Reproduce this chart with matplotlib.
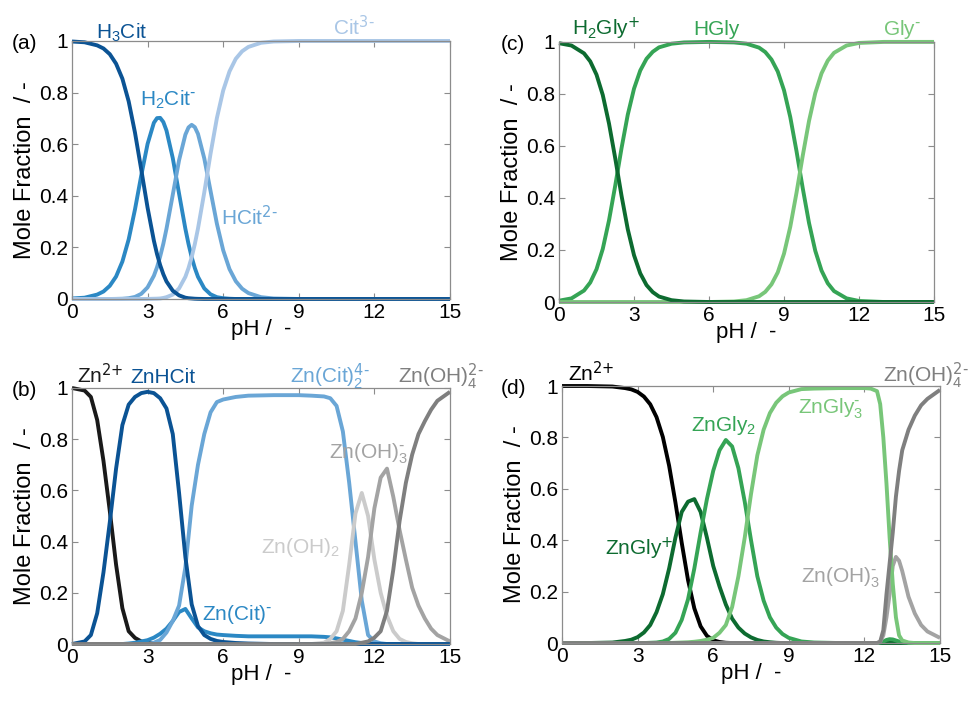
import matplotlib
matplotlib.use("Agg")
import matplotlib.pyplot as plt

plt.rcParams['font.family'] = ['Liberation Sans', 'DejaVu Sans']
plt.rcParams['mathtext.default'] = 'regular'

# ---------------- (a) citric acid ----------------
ph_a = [0, 0.5, 1, 1.25, 1.5, 1.75, 2, 2.25, 2.5, 2.75, 3, 3.25, 3.375, 3.5, 3.625,
        3.75, 4, 4.25, 4.5, 4.625, 4.75, 4.875, 5, 5.25, 5.5, 5.75, 6, 6.25, 6.5, 6.75,
        7, 7.5, 8, 9, 10, 12, 15]
h3cit = [0.998, 0.995, 0.983, 0.971, 0.949, 0.912, 0.854, 0.766, 0.645, 0.501, 0.354,
         0.226, 0.174, 0.131, 0.096, 0.068, 0.032, 0.014, 0.005, 0.003, 0.002, 0.001,
         0.0005] + [0] * 14
h2cit = [0.002, 0.005, 0.017, 0.029, 0.051, 0.087, 0.145, 0.231, 0.347, 0.479, 0.601,
         0.683, 0.701, 0.702, 0.686, 0.653, 0.546, 0.408, 0.272, 0.213, 0.162, 0.120,
         0.086, 0.041, 0.018, 0.007, 0.003, 0.001, 0, 0, 0, 0, 0, 0, 0, 0, 0]
hcit = [0, 0, 0, 0, 0, 0.0004, 0.001, 0.003, 0.008, 0.020, 0.045, 0.090, 0.123, 0.165,
        0.214, 0.272, 0.404, 0.538, 0.637, 0.665, 0.675, 0.666, 0.640, 0.545, 0.418,
        0.292, 0.189, 0.116, 0.069, 0.040, 0.023, 0.007, 0.002, 0, 0, 0, 0]
cit = [0, 0, 0, 0, 0, 0, 0, 0, 0, 0.0001, 0.0002, 0.001, 0.0013, 0.002, 0.004, 0.007,
       0.017, 0.041, 0.086, 0.120, 0.162, 0.213, 0.273, 0.413, 0.564, 0.701, 0.808,
       0.882, 0.931, 0.960, 0.977, 0.993, 0.998, 1, 1, 1, 1]

# ---------------- (c) glycine ----------------
ph_c = [0, 0.5, 1, 1.25, 1.5, 1.75, 2, 2.25, 2.5, 2.75, 3, 3.25, 3.5, 3.75, 4, 4.5, 5,
        6, 7, 7.5, 8, 8.25, 8.5, 8.75, 9, 9.25, 9.5, 9.75, 10, 10.25, 10.5, 10.75, 11,
        11.5, 12, 13, 14, 15]
h2gly = [0.995, 0.986, 0.956, 0.925, 0.874, 0.796, 0.686, 0.552, 0.409, 0.280, 0.180,
         0.110, 0.065, 0.038, 0.021, 0.007, 0.002, 0, 0, 0, 0, 0, 0, 0, 0, 0, 0, 0, 0,
         0, 0, 0, 0, 0, 0, 0, 0, 0]
hgly = [0.005, 0.014, 0.044, 0.075, 0.126, 0.204, 0.314, 0.448, 0.591, 0.720, 0.820,
        0.890, 0.935, 0.962, 0.979, 0.993, 0.998, 1.0, 0.998, 0.993, 0.978, 0.961,
        0.932, 0.886, 0.814, 0.711, 0.580, 0.437, 0.304, 0.197, 0.121, 0.072, 0.042,
        0.014, 0.004, 0, 0, 0]
gly = [0, 0, 0, 0, 0, 0, 0, 0, 0, 0, 0, 0, 0, 0, 0, 0, 0, 0, 0.002, 0.007, 0.022,
       0.039, 0.068, 0.114, 0.186, 0.289, 0.420, 0.563, 0.696, 0.803, 0.879, 0.928,
       0.958, 0.986, 0.996, 1.0, 1.0, 1.0]

# ---------------- (b) Zn - citrate ----------------
ph_b = [0, 0.5, 0.75, 1, 1.25, 1.5, 1.75, 2, 2.25, 2.5, 2.75, 3, 3.25, 3.5, 3.75, 4,
        4.25, 4.5, 4.75, 5, 5.25, 5.5, 5.75, 6, 6.5, 7, 8, 9, 9.5, 10, 10.25, 10.5,
        10.75, 11, 11.25, 11.5, 11.75, 12, 12.25, 12.5, 12.75, 13, 13.25, 13.5, 13.75,
        14, 14.25, 14.5, 15]
zn_b = [1.0, 0.99, 0.965, 0.875, 0.715, 0.52, 0.31, 0.14, 0.05, 0.024, 0.01, 0.005,
        0.002] + [0] * 36
znhcit = [0, 0.01, 0.035, 0.12, 0.28, 0.475, 0.685, 0.855, 0.935, 0.965, 0.98, 0.985,
          0.98, 0.96, 0.92, 0.82, 0.59, 0.34, 0.155, 0.07, 0.035, 0.02, 0.012, 0.008,
          0.004, 0.002] + [0] * 23
zncit = [0, 0, 0, 0, 0, 0, 0, 0, 0.002, 0.005, 0.01, 0.015, 0.025, 0.04, 0.06, 0.09,
         0.125, 0.137, 0.10, 0.065, 0.05, 0.042, 0.037, 0.035, 0.032, 0.03, 0.03, 0.03,
         0.03, 0.028, 0.026, 0.022, 0.017, 0.012, 0.007, 0.004, 0.002] + [0] * 12
zncit2 = [0] * 12 + [0.005, 0.016, 0.045, 0.09, 0.15, 0.30, 0.54, 0.70, 0.82, 0.905,
                     0.945, 0.955, 0.965, 0.97, 0.972, 0.972, 0.97, 0.967, 0.96, 0.93,
                     0.83, 0.63, 0.40, 0.17, 0.035, 0.01, 0.003] + [0] * 10
znoh2_b = [0] * 29 + [0.005, 0.02, 0.05, 0.13, 0.31, 0.51, 0.59, 0.50, 0.33, 0.20,
                      0.11, 0.05, 0.02, 0.008, 0.003, 0, 0, 0, 0, 0]
znoh3_b = [0] * 30 + [0.003, 0.008, 0.02, 0.05, 0.10, 0.20, 0.34, 0.53, 0.65, 0.685,
                      0.575, 0.445, 0.33, 0.22, 0.15, 0.10, 0.06, 0.035, 0.01]
znoh4_b = [0] * 35 + [0.005, 0.01, 0.025, 0.05, 0.13, 0.29, 0.48, 0.63, 0.74, 0.82,
                      0.87, 0.915, 0.95, 0.985]

# ---------------- (d) Zn - glycine ----------------
ph_d = [0, 1, 2, 2.5, 2.75, 3, 3.25, 3.5, 3.75, 4, 4.25, 4.5, 4.75, 5, 5.25, 5.5, 5.75,
        6, 6.25, 6.5, 6.75, 7, 7.25, 7.5, 7.75, 8, 8.25, 8.5, 8.75, 9, 9.5, 10, 11, 12,
        12.25, 12.5, 12.625, 12.75, 12.875, 13, 13.125, 13.25, 13.375, 13.5, 13.75, 14,
        14.25, 14.5, 15]
zn_d = [1.0, 1.0, 0.998, 0.992, 0.987, 0.977, 0.959, 0.929, 0.879, 0.802, 0.690, 0.547,
        0.390, 0.245, 0.135, 0.065, 0.028, 0.011, 0.004, 0.001] + [0] * 29
zngly = [0, 0, 0.002, 0.008, 0.013, 0.023, 0.041, 0.07, 0.12, 0.19, 0.29, 0.41, 0.51,
         0.55, 0.56, 0.51, 0.41, 0.30, 0.22, 0.15, 0.095, 0.06, 0.037, 0.022, 0.012,
         0.006, 0.003, 0.001] + [0] * 21
zngly2 = [0, 0, 0, 0, 0, 0, 0, 0.001, 0.002, 0.006, 0.016, 0.04, 0.09, 0.17, 0.29,
          0.43, 0.56, 0.67, 0.75, 0.79, 0.765, 0.68, 0.55, 0.40, 0.26, 0.165, 0.10,
          0.06, 0.035, 0.02, 0.006, 0.002, 0, 0, 0, 0, 0.002, 0.006, 0.012, 0.015,
          0.014, 0.01, 0.006, 0.003, 0, 0, 0, 0, 0]
zngly3 = [0] * 11 + [0.001, 0.002, 0.003, 0.005, 0.008, 0.013, 0.02, 0.04, 0.07, 0.14,
                     0.26, 0.41, 0.58, 0.73, 0.83, 0.895, 0.935, 0.96, 0.975, 0.988,
                     0.99, 0.992, 0.992, 0.99, 0.98, 0.93, 0.80, 0.62, 0.41, 0.23,
                     0.10, 0.03, 0.01, 0.002, 0, 0, 0, 0]
znoh3_d = [0] * 36 + [0.005, 0.03, 0.10, 0.19, 0.30, 0.335, 0.32, 0.28, 0.18, 0.115,
                      0.07, 0.045, 0.02]
znoh4_d = [0] * 36 + [0.005, 0.05, 0.19, 0.31, 0.43, 0.57, 0.67, 0.75, 0.83, 0.885,
                      0.925, 0.95, 0.985]

# colours
BLUE1, BLUE2, BLUE3, BLUE4 = '#0b5394', '#2b88c4', '#6aa6d6', '#a9c6e6'
GREEN1, GREEN2, GREEN3 = '#0d6b30', '#35a455', '#78c679'
BLACK, GRAY_L, GRAY_M, GRAY_D = '#1a1a1a', '#cbcbcb', '#a3a3a3', '#7f7f7f'
LW = 2.8

fig = plt.figure(figsize=(9.7, 7.03), dpi=100)
ax_a = fig.add_axes([0.0742, 0.5747, 0.3897, 0.367])
ax_c = fig.add_axes([0.5763, 0.5704, 0.3866, 0.370])
ax_b = fig.add_axes([0.0742, 0.0839, 0.3897, 0.3642])
ax_d = fig.add_axes([0.5794, 0.0853, 0.3897, 0.3656])


def style(ax, letter, lx):
    ax.set_xlim(0, 15)
    ax.set_ylim(0, 1)
    ax.set_xticks([0, 3, 6, 9, 12, 15])
    ax.set_yticks([0, 0.2, 0.4, 0.6, 0.8, 1])
    ax.set_yticklabels(['0', '0.2', '0.4', '0.6', '0.8', '1'])
    ax.tick_params(direction='in', top=True, right=True, labelsize=15,
                   length=4, width=0.8, color='#8c8c8c', pad=3)
    for s in ax.spines.values():
        s.set_color('#8c8c8c')
        s.set_linewidth(0.9)
    ax.set_xlabel('pH /  -', fontsize=16, labelpad=-2)
    ax.set_ylabel('Mole Fraction  / -', fontsize=17, labelpad=2)
    ax.text(lx, 0.99, letter, transform=ax.transAxes, fontsize=15,
            ha='left', va='center')


def curve(ax, x, y, c):
    ax.plot(x, y, color=c, lw=LW, clip_on=False, solid_joinstyle='round',
            solid_capstyle='butt')


def lbl(ax, x, y, s, c):
    ax.text(x, y, s, color=c, fontsize=15, ha='left', va='baseline', clip_on=False)


# (a)
ax = ax_a
curve(ax, ph_a, h2cit, BLUE2)
curve(ax, ph_a, hcit, BLUE3)
curve(ax, ph_a, cit, BLUE4)
curve(ax, ph_a, h3cit, BLUE1)
style(ax, '(a)', -0.16)
lbl(ax, 0.95, 1.01, 'H$_3$Cit', BLUE1)
lbl(ax, 2.7, 0.748, r'H$_2$Cit$^{\text{-}}$', BLUE2)
lbl(ax, 5.9, 0.287, r'HCit$^{\text{2-}}$', BLUE3)
lbl(ax, 10.35, 1.023, r'Cit$^{\text{3-}}$', BLUE4)

# (c)
ax = ax_c
curve(ax, ph_c, hgly, GREEN2)
curve(ax, ph_c, gly, GREEN3)
curve(ax, ph_c, h2gly, GREEN1)
style(ax, '(c)', -0.156)
lbl(ax, 0.5, 1.027, r'H$_2$Gly$^{\text{+}}$', GREEN1)
lbl(ax, 5.35, 1.027, 'HGly', GREEN2)
lbl(ax, 12.95, 1.027, r'Gly$^{\text{-}}$', GREEN3)

# (b)
ax = ax_b
curve(ax, ph_b, zn_b, BLACK)
curve(ax, ph_b, zncit, BLUE2)
curve(ax, ph_b, zncit2, BLUE3)
curve(ax, ph_b, znoh2_b, GRAY_L)
curve(ax, ph_b, znoh3_b, GRAY_M)
curve(ax, ph_b, znhcit, BLUE1)
curve(ax, ph_b, znoh4_b, GRAY_D)
style(ax, '(b)', -0.16)
lbl(ax, 0.2, 1.02, r'Zn$^{\text{2+}}$', BLACK)
lbl(ax, 2.3, 1.02, 'ZnHCit', BLUE1)
lbl(ax, 8.65, 1.02, r'Zn(Cit)$_2^{\text{4-}}$', BLUE3)
lbl(ax, 12.95, 1.02, r'Zn(OH)$_4^{\text{2-}}$', GRAY_D)
lbl(ax, 10.2, 0.725, r'Zn(OH)$_3^{\text{-}}$', GRAY_M)
lbl(ax, 7.5, 0.354, 'Zn(OH)$_2$', GRAY_L)
lbl(ax, 5.15, 0.094, r'Zn(Cit)$^{\text{-}}$', BLUE2)

# (d)
ax = ax_d
curve(ax, ph_d, zn_d, '#000000')
curve(ax, ph_d, zngly, GREEN1)
curve(ax, ph_d, zngly2, GREEN2)
curve(ax, ph_d, znoh3_d, GRAY_M)
curve(ax, ph_d, zngly3, GREEN3)
curve(ax, ph_d, znoh4_d, GRAY_D)
style(ax, '(d)', -0.163)
lbl(ax, 0.25, 1.017, r'Zn$^{\text{2+}}$', '#000000')
lbl(ax, 12.75, 1.017, r'Zn(OH)$_4^{\text{2-}}$', GRAY_D)
lbl(ax, 9.35, 0.894, r'ZnGly$_3^{\text{-}}$', GREEN3)
lbl(ax, 5.1, 0.826, 'ZnGly$_2$', GREEN2)
lbl(ax, 1.72, 0.342, r'ZnGly$^{\text{+}}$', GREEN1)
lbl(ax, 9.5, 0.235, r'Zn(OH)$_3^{\text{-}}$', GRAY_M)

fig.savefig('out.png', dpi=100, facecolor='white')
